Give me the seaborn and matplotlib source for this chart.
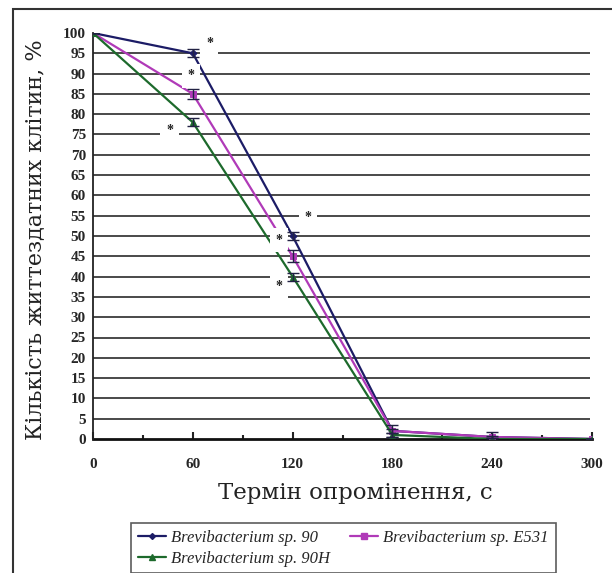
import matplotlib
matplotlib.use("Agg")
import matplotlib.pyplot as plt
import seaborn as sns
import pandas as pd
import numpy as np
from matplotlib.patches import Rectangle
from matplotlib.lines import Line2D

# ---- data ----
times = [0, 60, 120, 180, 240, 300]
series_names = ["Brevibacterium sp. 90", "Brevibacterium sp. E531", "Brevibacterium sp. 90H"]
vals_90 = [100, 95, 50, 2, 0.5, 0]
vals_e531 = [100, 85, 45, 2, 0.5, 0]
vals_90h = [100, 78, 40, 1, 0, 0]
err_90 = [0, 1, 1, 1.5, 1.2, 0]
err_e531 = [0, 1.2, 1.5, 0.5, 0.3, 0]
err_90h = [0, 1, 1, 0.5, 0.2, 0]
# asterisk annotations (x in s, y in %)
star_x = [70, 59, 46, 129, 112, 112]
star_y = [97.5, 89.5, 76, 54.5, 49, 37.5]
yticks = list(range(0, 101, 5))
xticks = [0, 60, 120, 180, 240, 300]
xlabel = "Термін опромінення, с"
ylabel = "Кількість життездатних клітин, %"

colors = ["#1c1c66", "#b03ab8", "#1d6a2c"]
markers = ["D", "s", "^"]
msizes = [3.5, 4.5, 4.5]

df = pd.DataFrame({
    "t": times * 3,
    "v": vals_90 + vals_e531 + vals_90h,
    "e": err_90 + err_e531 + err_90h,
    "s": sum([[n] * len(times) for n in series_names], []),
})

sns.set_style("white")
plt.rcParams["font.family"] = ["DejaVu Serif", "DejaVu Sans"]

fig = plt.figure(figsize=(6.12, 5.73), dpi=100)
ax = fig.add_axes([93 / 612, 1 - 439 / 573, (592 - 93) / 612, (439 - 33) / 573])

# gridlines
for yv in yticks[1:-1]:
    ax.plot([0, 299], [yv, yv], color="#3a3a3a", lw=1.3, zorder=1, solid_capstyle="butt")

for i, name in enumerate(series_names):
    sub = df[df["s"] == name]
    sns.lineplot(data=sub, x="t", y="v", ax=ax, color=colors[i], marker=markers[i],
                 markersize=msizes[i], markeredgecolor=colors[i], lw=1.6,
                 legend=False, zorder=3, errorbar=None)
    ax.errorbar(sub["t"], sub["v"], yerr=sub["e"], fmt="none", ecolor="#222244",
                elinewidth=1.0, capsize=4, capthick=1.0, zorder=4)

for sx, sy in zip(star_x, star_y):
    ax.text(sx, sy, "*", ha="center", va="center", fontsize=10, fontweight="bold",
            family="Liberation Serif", color="#222222", zorder=3.5,
            bbox=dict(facecolor="white", edgecolor="none", pad=4))

ax.set_xlim(0, 300)
ax.set_ylim(0, 100)
ax.set_yticks(yticks)
ax.set_xticks(xticks)
ax.set_xticks([30, 90, 150, 210, 270], minor=True)
for sp in ["top", "right"]:
    ax.spines[sp].set_visible(False)
ax.spines["left"].set_color("#222222")
ax.spines["left"].set_linewidth(1.3)
ax.spines["bottom"].set_color("#111111")
ax.spines["bottom"].set_linewidth(2)
ax.spines["bottom"].set_zorder(2)
ax.tick_params(axis="x", which="major", direction="in", length=5, width=1.5, pad=14,
               bottom=True, color="#222222")
ax.tick_params(axis="x", which="minor", direction="in", length=3, width=1.5, bottom=True,
               color="#222222")
ax.tick_params(axis="y", which="major", length=0, pad=5, left=False)
for lab in ax.get_xticklabels() + ax.get_yticklabels():
    lab.set_family("Liberation Serif")
    lab.set_fontweight("bold")
    lab.set_fontsize(11)
ax.set_xlabel(xlabel, fontsize=16.5, color="#222222")
ax.xaxis.set_label_coords(0.525, -0.105)
ax.set_ylabel(ylabel, fontsize=16, color="#222222")
ax.yaxis.set_label_coords(-0.095, 0.49)

# outer frame
fig.patches.append(Rectangle((13 / 612, -0.05), 1.1, 1 - 9 / 573 + 0.05,
                             transform=fig.transFigure, fill=False,
                             edgecolor="#333333", lw=1.5))

order = [0, 2, 1]
handles = [Line2D([0], [0], color=colors[i], marker=markers[i], markersize=msizes[i] - 0.5,
                  lw=1.6) for i in order]
leg = fig.legend(handles, [series_names[i] for i in order], loc="upper left",
                 bbox_to_anchor=(131 / 612, 1 - 523 / 573), ncol=2,
                 prop=dict(family="Liberation Serif", style="italic", size=12),
                 frameon=True, fancybox=False, edgecolor="#333333",
                 handlelength=1.7, handletextpad=0.3, columnspacing=1.2,
                 borderpad=0.4, labelspacing=0.3, borderaxespad=0)
leg.get_frame().set_linewidth(1.2)

fig.savefig("out.png", dpi=100)
